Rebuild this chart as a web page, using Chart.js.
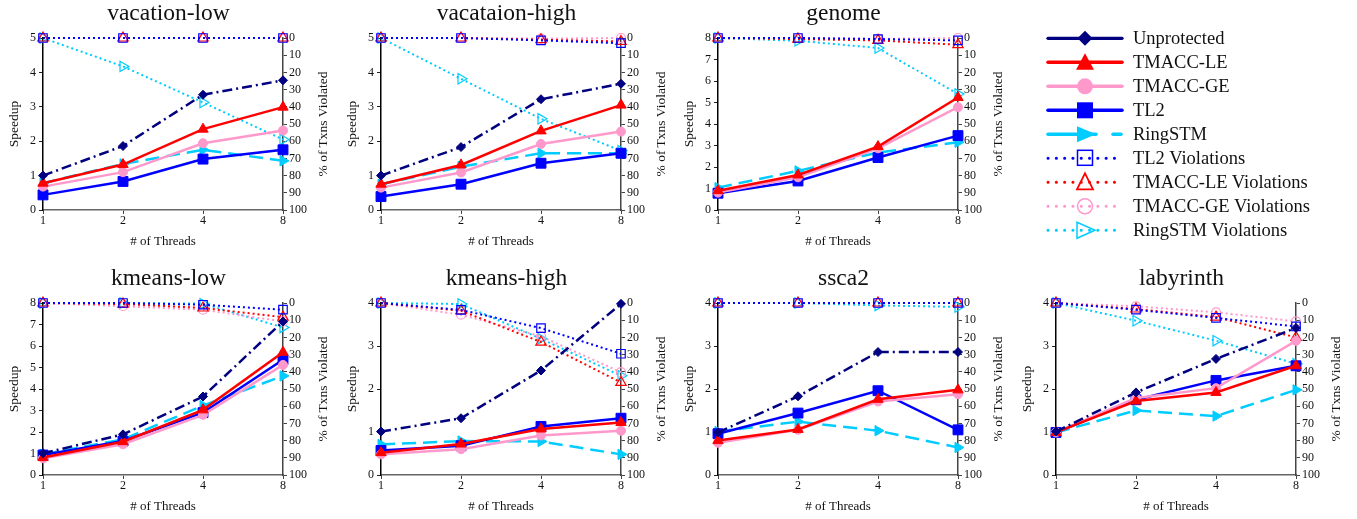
<!DOCTYPE html>
<html><head><meta charset="utf-8">
<script src="https://cdn.jsdelivr.net/npm/chart.js@4"></script>
<style>
body{margin:0;background:#fff;width:1357px;height:519px;overflow:hidden;position:relative;font-family:'Liberation Serif','Times New Roman',serif;color:#111}
canvas{position:absolute}
.lg{position:absolute;left:1133px;height:24px;font-size:18.5px;line-height:24px;white-space:nowrap;color:#111}
.rt{position:absolute;width:200px;height:16px;line-height:16px;font-size:13.5px;text-align:center;transform:rotate(-90deg);white-space:nowrap;color:#111}
#legsvg{position:absolute;left:1040px;top:20px}
</style></head><body>
<script>
// ---- data ----
const threads = ['1', '2', '4', '8'];
const titles = ['vacation-low', 'vacataion-high', 'genome', 'kmeans-low', 'kmeans-high', 'ssca2', 'labyrinth'];
const speedupMax = [5, 5, 8, 8, 4, 4, 4];
const violationTicks = [0, 100, 10];
const seriesNames = ['Unprotected', 'TMACC-LE', 'TMACC-GE', 'TL2', 'RingSTM',
                     'TL2 Violations', 'TMACC-LE Violations', 'TMACC-GE Violations', 'RingSTM Violations'];

const unprotected = [
  [1.00, 1.86, 3.35, 3.77],
  [1.00, 1.83, 3.22, 3.67],
  [null, null, null, null],
  [1.01, 1.89, 3.65, 7.14],
  [1.01, 1.32, 2.43, 3.98],
  [0.99, 1.83, 2.86, 2.86],
  [1.01, 1.92, 2.70, 3.42]];
const tmaccLE = [
  [0.78, 1.32, 2.35, 2.99],
  [0.75, 1.31, 2.30, 3.05],
  [0.90, 1.63, 2.95, 5.23],
  [0.81, 1.55, 3.03, 5.71],
  [0.52, 0.72, 1.07, 1.22],
  [0.80, 1.06, 1.76, 1.98],
  [0.99, 1.72, 1.92, 2.54]];
const tmaccGE = [
  [0.68, 1.10, 1.94, 2.31],
  [0.65, 1.09, 1.92, 2.28],
  [0.81, 1.52, 2.87, 4.78],
  [0.78, 1.43, 2.80, 5.12],
  [0.48, 0.60, 0.92, 1.03],
  [0.75, 1.05, 1.71, 1.88],
  [0.99, 1.79, 2.02, 3.12]];
const tl2 = [
  [0.44, 0.83, 1.48, 1.75],
  [0.39, 0.75, 1.36, 1.65],
  [0.78, 1.35, 2.44, 3.46],
  [0.93, 1.58, 2.90, 5.36],
  [0.57, 0.68, 1.13, 1.32],
  [0.96, 1.44, 1.96, 1.05],
  [0.99, 1.75, 2.20, 2.54]];
const ringSTM = [
  [0.78, 1.34, 1.75, 1.43],
  [0.75, 1.26, 1.65, 1.65],
  [1.04, 1.82, 2.67, 3.15],
  [0.96, 1.66, 3.23, 4.61],
  [0.71, 0.79, 0.78, 0.48],
  [1.01, 1.24, 1.03, 0.64],
  [0.99, 1.50, 1.37, 1.98]];
const tl2Viol = [
  [0, 0, 0, 0],
  [0, 0, 1.4, 3],
  [0, 0, 0.6, 1.4],
  [0, 0, 1, 3.9],
  [0, 4, 14.6, 29.5],
  [0, 0, 0, 0],
  [0, 3.9, 8.7, 13.6]];
const tmaccLEViol = [
  [0, 0, 0, 0],
  [0, 0, 1, 2],
  [0, 0.6, 1.4, 3.9],
  [0, 0.6, 2.9, 8.2],
  [0, 4.5, 22.7, 46.2],
  [0, 0, 0, 0],
  [0, 3.5, 8.2, 20]];
const tmaccGEViol = [
  [0, 0, 0, 0],
  [0, 0, 0.4, 0],
  [0, 0, 0.5, 0],
  [0, 1.9, 3.9, 10.7],
  [0, 6.8, 19.4, 40.2],
  [0, 0, 0, 0],
  [0, 1.9, 5.4, 10.7]];
const ringSTMViol = [
  [0, 16.5, 37.5, 59],
  [0, 23.7, 47, 65.5],
  [0, 1.6, 5.8, 32.6],
  [0, 0, 0.4, 14.2],
  [0, 0.6, 20.8, 42.3],
  [0, 0, 1.4, 2.3],
  [0, 10.3, 21.9, 35.3]];

// ---- styling ----
const FONT = "'Liberation Serif', 'Times New Roman', serif";
const C = {unp: '#000080', le: '#ff0000', ge: '#ff99cc', tl2: '#0000ff', ring: '#00ccff'};

function speedSeries(label, data, color, pointStyle, radius, dash, order, rot) {
  return {label, data, yAxisID: 'y', borderColor: color, backgroundColor: color,
    borderWidth: 2.5, borderDash: dash, pointStyle, pointRadius: radius, pointRotation: rot || 0,
    pointBackgroundColor: color, pointBorderColor: color, pointBorderWidth: 1,
    tension: 0, clip: false, order, spanGaps: true};
}
function violSeries(label, data, color, pointStyle, radius, order, rot) {
  return {label, data, yAxisID: 'y2', borderColor: color, backgroundColor: 'rgba(0,0,0,0)',
    borderWidth: 2, borderDash: [2, 3], pointStyle, pointRadius: radius, pointRotation: rot || 0,
    pointBackgroundColor: 'rgba(0,0,0,0)', pointBorderColor: color, pointBorderWidth: 1.2,
    tension: 0, clip: false, order};
}

for (let i = 0; i < titles.length; i++) {
  const row = i < 3 ? 0 : 1;
  const col = i < 3 ? i : i - 3;
  const left = Math.round(col * 337.5);
  const top = row === 0 ? 0 : 265;
  const cv = document.createElement('canvas');
  cv.width = 337; cv.height = 255;
  cv.style.left = left + 'px'; cv.style.top = top + 'px';
  cv.style.width = '337px'; cv.style.height = '255px';
  document.body.appendChild(cv);

  const rt = document.createElement('div');
  rt.className = 'rt';
  rt.textContent = '% of Txns Violated';
  rt.style.left = (left + 322.5 - 100) + 'px';
  rt.style.top = (top + 124 - 8) + 'px';
  document.body.appendChild(rt);

  const datasets = [
    speedSeries(seriesNames[0], unprotected[i], C.unp, 'rectRot', 4.5, [10, 4, 2, 4], 0),
    speedSeries(seriesNames[1], tmaccLE[i], C.le, 'triangle', 6, [], 1),
    speedSeries(seriesNames[2], tmaccGE[i], C.ge, 'circle', 4.5, [], 2),
    speedSeries(seriesNames[3], tl2[i], C.tl2, 'rect', 7, [], 3),
    speedSeries(seriesNames[4], ringSTM[i], C.ring, 'triangle', 6, [14, 7], 4, 90),
    violSeries(seriesNames[5], tl2Viol[i], C.tl2, 'rect', 6, 5),
    violSeries(seriesNames[6], tmaccLEViol[i], C.le, 'triangle', 6, 6),
    violSeries(seriesNames[7], tmaccGEViol[i], C.ge, 'circle', 4.5, 7),
    violSeries(seriesNames[8], ringSTMViol[i], C.ring, 'triangle', 6, 8, 90)
  ];

  new Chart(cv, {
    type: 'line',
    data: {labels: threads, datasets},
    options: {
      responsive: false, animation: false, events: [],
      layout: {padding: 0},
      plugins: {
        legend: {display: false}, tooltip: {enabled: false},
        title: {display: true, text: titles[i], color: '#111',
          font: {family: FONT, size: 23.5, weight: 'normal', lineHeight: 1.2},
          padding: {top: 0, bottom: 9.8}}
      },
      scales: {
        x: {type: 'category', offset: false,
          grid: {display: true, drawOnChartArea: false, drawTicks: true, tickLength: 4, color: '#444'},
          border: {display: true, color: '#666', width: 1.5},
          ticks: {color: '#111', font: {family: FONT, size: 12}, padding: 0, maxRotation: 0, autoSkip: false},
          title: {display: true, text: '# of Threads', color: '#111', font: {family: FONT, size: 13}, padding: {top: 0, bottom: 6}},
          afterFit: s => { s.height = 45; }
        },
        y: {position: 'left', min: 0, max: speedupMax[i],
          grid: {display: true, drawOnChartArea: false, drawTicks: true, tickLength: 4, color: '#222'},
          border: {display: true, color: '#000', width: 1.5},
          ticks: {stepSize: 1, color: '#111', font: {family: FONT, size: 12}, padding: 3, autoSkip: false},
          title: {display: true, text: 'Speedup', color: '#111', font: {family: FONT, size: 13.5}, padding: {top: 6, bottom: 0}},
          afterFit: s => { s.width = 43; }
        },
        y2: {position: 'right', min: violationTicks[0], max: violationTicks[1], reverse: true,
          grid: {display: true, drawOnChartArea: false, drawTicks: true, tickLength: 4, color: '#444'},
          border: {display: true, color: '#444', width: 1.5},
          ticks: {stepSize: violationTicks[2], color: '#111', font: {family: FONT, size: 12}, padding: 2, autoSkip: false},
          afterFit: s => { s.width = 54; }
        }
      }
    }
  });
}

// ---- legend ----
const rowY = k => 18.3 + 24 * k;
let svg = '<svg id="legsvg" width="100" height="230" xmlns="http://www.w3.org/2000/svg">';
function line(y, color, w, extra) { return `<line x1="8" y1="${y}" x2="82" y2="${y}" stroke="${color}" stroke-width="${w}" stroke-linecap="round" ${extra || ''}/>`; }
let y = rowY(0);
svg += line(y, C.unp, 3.3) + `<polygon points="45,${y - 7.5} 52.5,${y} 45,${y + 7.5} 37.5,${y}" fill="${C.unp}"/>`;
y = rowY(1);
svg += line(y, C.le, 3.5) + `<polygon points="45,${y - 9} 54,${y + 7.5} 36,${y + 7.5}" fill="${C.le}"/>`;
y = rowY(2);
svg += line(y, C.ge, 3.5) + `<circle cx="45" cy="${y}" r="8" fill="${C.ge}"/>`;
y = rowY(3);
svg += line(y, C.tl2, 3.5) + `<rect x="37" y="${y - 8}" width="16" height="16" fill="${C.tl2}"/>`;
y = rowY(4);
svg += `<line x1="8" y1="${y}" x2="56" y2="${y}" stroke="${C.ring}" stroke-width="3.5" stroke-linecap="round"/>` +
       `<line x1="73" y1="${y}" x2="81" y2="${y}" stroke="${C.ring}" stroke-width="3.5" stroke-linecap="round"/>` +
       `<polygon points="37,${y - 8} 56,${y} 37,${y + 8}" fill="${C.ring}"/>`;
const dots = 'stroke-dasharray="0.1 8.2"';
y = rowY(5);
svg += line(y, C.tl2, 3, dots) + `<rect x="37.5" y="${y - 8}" width="15" height="15" fill="none" stroke="${C.tl2}" stroke-width="1.5"/>`;
y = rowY(6);
svg += line(y, C.le, 3, dots) + `<polygon points="45,${y - 9} 53,${y + 7} 37,${y + 7}" fill="none" stroke="${C.le}" stroke-width="1.8"/>`;
y = rowY(7);
svg += line(y, C.ge, 3, dots) + `<circle cx="45" cy="${y}" r="7.5" fill="none" stroke="${C.ge}" stroke-width="1.5"/>`;
y = rowY(8);
svg += line(y, C.ring, 3, dots) + `<polygon points="37,${y - 8} 55,${y} 37,${y + 8}" fill="none" stroke="${C.ring}" stroke-width="1.5"/>`;
svg += '</svg>';
document.body.insertAdjacentHTML('beforeend', svg);
seriesNames.forEach((n, k) => {
  const d = document.createElement('div');
  d.className = 'lg';
  d.textContent = n;
  d.style.top = (20 + rowY(k) - 12) + 'px';
  document.body.appendChild(d);
});
</script>
</body></html>
